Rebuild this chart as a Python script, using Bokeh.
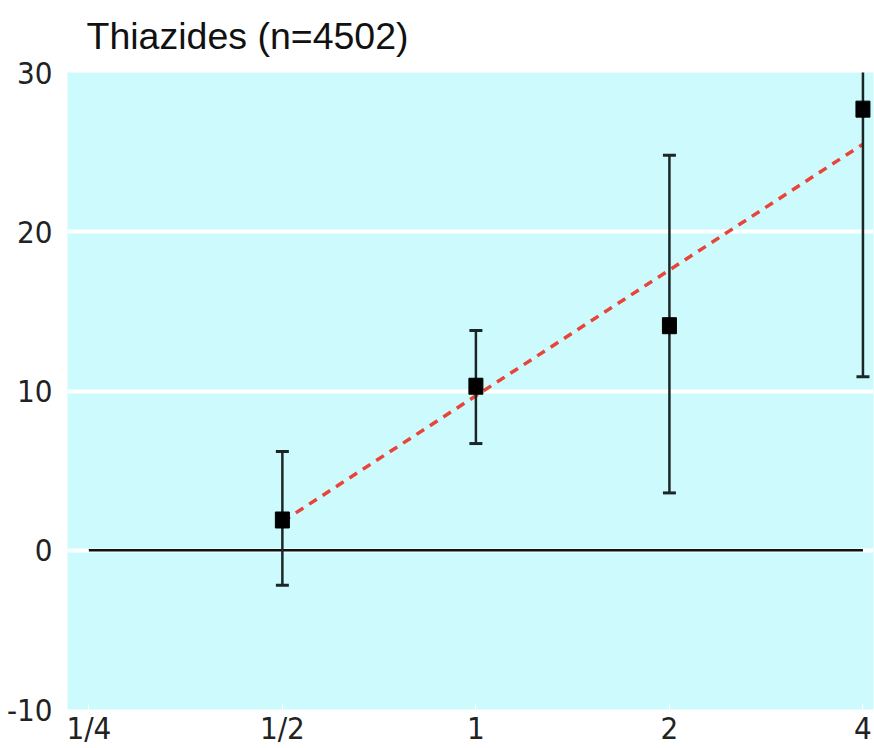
from bokeh.plotting import figure
from bokeh.models import FixedTicker, ColumnDataSource
from bokeh.embed import file_html
from bokeh.resources import INLINE

# ---- data ----
title_text = "Thiazides (n=4502)"
x_ratio = [0.5, 1, 2, 4]
effect = [1.9, 10.3, 14.1, 27.7]
ci_low = [-2.2, 6.7, 3.6, 10.9]
ci_high = [6.2, 13.8, 24.8, 32.0]
trend_x = [0.5, 4]
trend_y = [1.8, 25.5]
x_ticks = [0.25, 0.5, 1, 2, 4]
x_tick_labels = ["1/4", "1/2", "1", "2", "4"]
y_ticks = [-10, 0, 10, 20, 30]
y_tick_labels = ["-10", "0", "10", "20", "30"]

NARROW = "'DejaVu Sans Condensed', 'Liberation Sans Narrow', 'DejaVu Sans', sans-serif"

p = figure(width=874, height=748, x_axis_type="log", x_range=(0.2316, 4.154), y_range=(-10, 30),
           output_backend="svg", toolbar_location=None, title=title_text,
           min_border_left=67, min_border_right=1, min_border_bottom=38, min_border_top=0)
p.background_fill_color = "#cdfbfd"
p.border_fill_color = "white"
p.outline_line_color = None

p.title.text_font = "Liberation Sans"
p.title.text_font_size = "37.5px"
p.title.text_font_style = "normal"
p.title.text_color = "#111111"
p.title.vertical_align = "top"
p.title.text_line_height = 0.75
p.title.offset = 19
p.title.standoff = 28

# axes
p.xaxis.ticker = FixedTicker(ticks=x_ticks)
p.xaxis.major_label_overrides = {t: l for t, l in zip(x_ticks, x_tick_labels)}
p.xaxis.axis_line_color = None
p.xaxis.major_tick_in = 6
p.xaxis.major_tick_out = 0
p.xaxis.major_tick_line_color = "white"
p.xaxis.minor_tick_line_color = None
p.xaxis.major_label_standoff = 0
p.xaxis.major_label_text_font = NARROW
p.xaxis.major_label_text_font_size = "31px"
p.xaxis.major_label_text_color = "#222222"

p.yaxis.ticker = FixedTicker(ticks=y_ticks)
p.yaxis.major_label_overrides = {t: l for t, l in zip(y_ticks, y_tick_labels)}
p.yaxis.axis_line_color = None
p.yaxis.major_tick_line_color = None
p.yaxis.minor_tick_line_color = None
p.yaxis.major_label_standoff = 9
p.yaxis.major_label_text_font = NARROW
p.yaxis.major_label_text_font_size = "31px"
p.yaxis.major_label_text_color = "#222222"

p.xgrid.grid_line_color = None
p.ygrid.ticker = FixedTicker(ticks=[0, 10, 20])
p.ygrid.grid_line_color = "white"
p.ygrid.grid_line_width = 4

# zero reference line
p.line(x=[x_ticks[0], x_ticks[-1]], y=[0, 0], line_color="#111111", line_width=2.5)

# trend line
p.line(x=trend_x, y=trend_y, line_color="#e8443a", line_width=3.5, line_dash="9 7")

src = ColumnDataSource(dict(x=x_ratio, y=effect, lo=ci_low, hi=ci_high))
p.segment(x0="x", y0="lo", x1="x", y1="hi", source=src, line_color="#1c2626", line_width=2.5)
p.scatter(x="x", y="lo", source=src, marker="dash", size=13, line_color="#1c2626", line_width=3)
p.scatter(x="x", y="hi", source=src, marker="dash", size=13, line_color="#1c2626", line_width=3)
p.rect(x="x", y="y", width=14, height=16, width_units="screen", height_units="screen",
       source=src, fill_color="black", line_color="black")

open("out.html", "w").write(file_html(p, INLINE))
